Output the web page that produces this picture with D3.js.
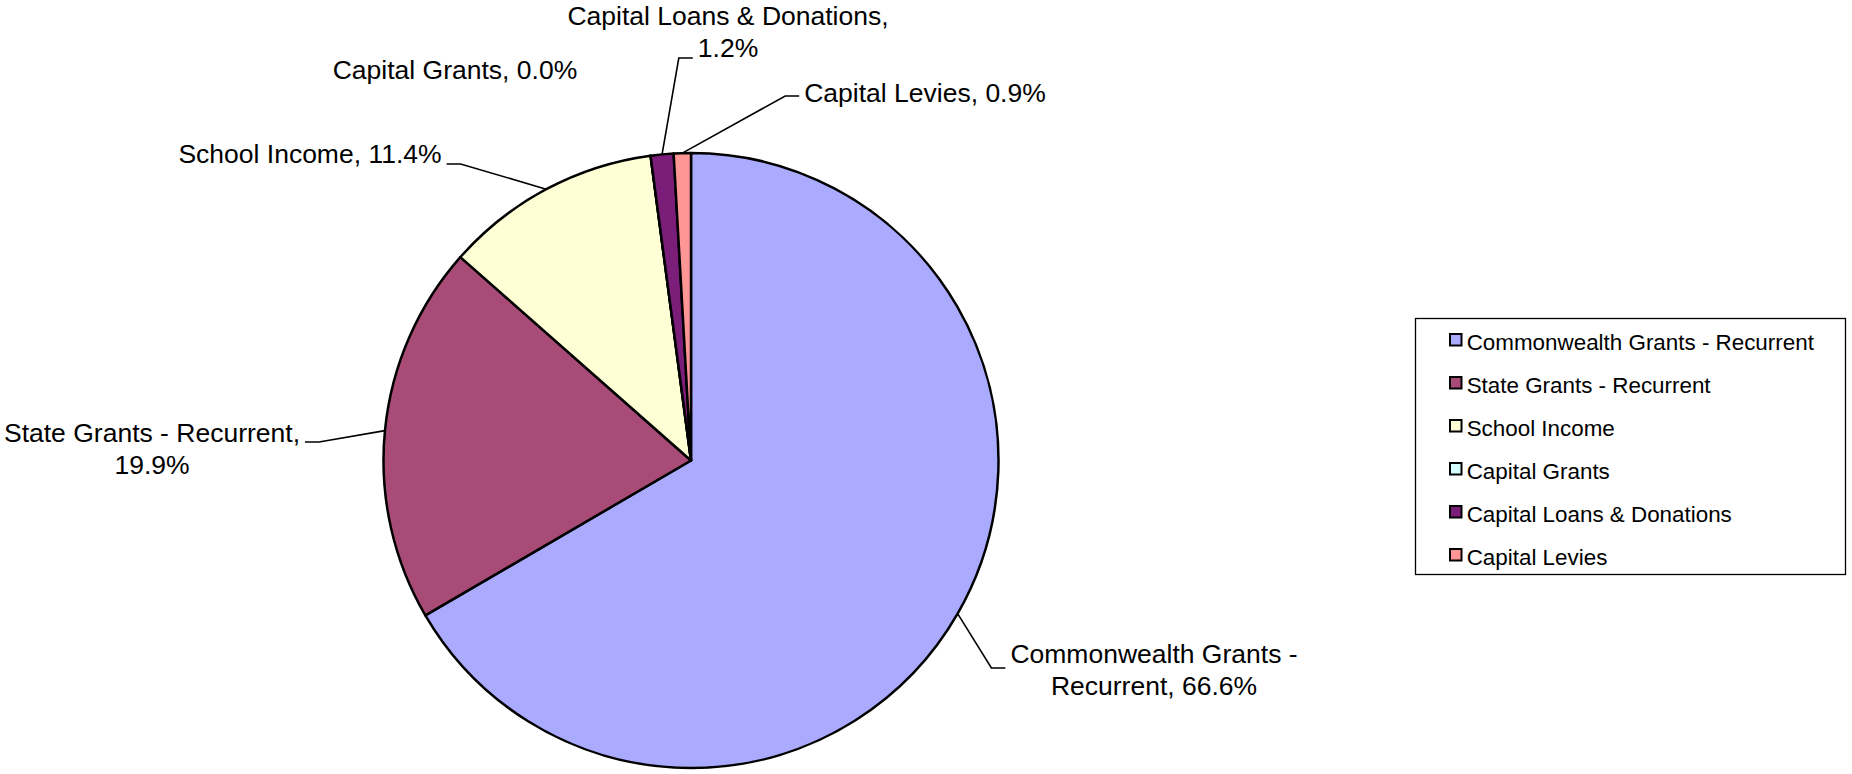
<!DOCTYPE html>
<html>
<head>
<meta charset="utf-8">
<script src="https://cdn.jsdelivr.net/npm/d3@7"></script>
<style>
  body { margin: 0; background: #fff; }
  svg { display: block; }
  text { font-family: "Liberation Sans", Arial, sans-serif; fill: #000; }
</style>
</head>
<body>
<div id="chart"></div>
<script>
// data
var categories = ["Commonwealth Grants - Recurrent", "State Grants - Recurrent", "School Income",
                  "Capital Grants", "Capital Loans & Donations", "Capital Levies"];
var shares = [66.6, 19.9, 11.4, 0.0, 1.2, 0.9];
var labelLines = [
  ["Commonwealth Grants -", "Recurrent, 66.6%"],
  ["State Grants - Recurrent,", "19.9%"],
  ["School Income, 11.4%"],
  ["Capital Grants, 0.0%"],
  ["Capital Loans & Donations,", "1.2%"],
  ["Capital Levies, 0.9%"]
];
var colors = ["#AAAAFF", "#A94B77", "#FFFFD5", "#D5FFFF", "#7B1E7A", "#FF9696"];

var width = 1852, height = 774;
var cx = 691, cy = 460.5, r = 307.5;

// where each data label sits (text centre x, first baseline y, leader y, which line / side the leader meets)
var labelLayout = [
  {x: 1154, y: 663,   ly: 668, line: 0, side: "start"},
  {x: 152,  y: 441.5, ly: 442, line: 0, side: "end"},
  {x: 310,  y: 163,   ly: 164, line: 0, side: "end"},
  {x: 455,  y: 79,    ly: null},
  {x: 728,  y: 25,    ly: 58,  line: 1, side: "start"},
  {x: 925,  y: 101.5, ly: 96,  line: 0, side: "start"}
];

var svg = d3.select("#chart")
  .append("svg")
  .attr("width", width)
  .attr("height", height);

var pie = d3.pie().sort(null).value(function(d) { return d; });
var arcs = pie(shares);

var arc = d3.arc().innerRadius(0).outerRadius(r);
var edge = d3.arc().innerRadius(r).outerRadius(r);

var g = svg.append("g").attr("transform", "translate(" + cx + "," + cy + ")");

g.selectAll("path.slice")
  .data(arcs)
  .enter()
  .append("path")
  .attr("class", "slice")
  .attr("d", arc)
  .attr("fill", function(d, i) { return colors[i]; })
  .attr("stroke", "#000")
  .attr("stroke-width", 2.5)
  .attr("stroke-linejoin", "round");

// data labels
var lineH = 32, gap = 5, tail = 14;
labelLines.forEach(function(lines, i) {
  var L = labelLayout[i];
  var t = svg.append("text")
    .attr("text-anchor", "middle")
    .style("font-size", "26.5px");
  var spans = lines.map(function(s, k) {
    return t.append("tspan").attr("x", L.x).attr("y", L.y + k * lineH).text(s);
  });
  if (L.ly == null || shares[i] === 0) return;

  var w = spans[L.line].node().getComputedTextLength();
  var hx, ex;
  if (L.side === "start") {
    hx = L.x - w / 2 - gap;
    ex = hx - tail;
  } else {
    hx = L.x + w / 2 + gap;
    ex = hx + tail;
  }
  var p = edge.centroid(arcs[i]);
  svg.append("path")
    .attr("d", d3.line()([[cx + p[0], cy + p[1]], [ex, L.ly], [hx, L.ly]]))
    .attr("fill", "none")
    .attr("stroke", "#000")
    .attr("stroke-width", 1.6);
});

// legend
var lg = svg.append("g");
lg.append("rect")
  .attr("x", 1415.5).attr("y", 318.5)
  .attr("width", 430).attr("height", 256)
  .attr("fill", "#fff")
  .attr("stroke", "#000")
  .attr("stroke-width", 1.3);

var items = lg.selectAll("g.item")
  .data(categories)
  .enter()
  .append("g")
  .attr("class", "item")
  .attr("transform", function(d, i) { return "translate(1450," + (334 + i * 43) + ")"; });

items.append("rect")
  .attr("width", 11.5).attr("height", 11.5)
  .attr("fill", function(d, i) { return colors[i]; })
  .attr("stroke", "#000")
  .attr("stroke-width", 2);

items.append("text")
  .attr("x", 16.7)
  .attr("y", 16)
  .style("font-size", "22.4px")
  .text(function(d) { return d; });
</script>
</body>
</html>
